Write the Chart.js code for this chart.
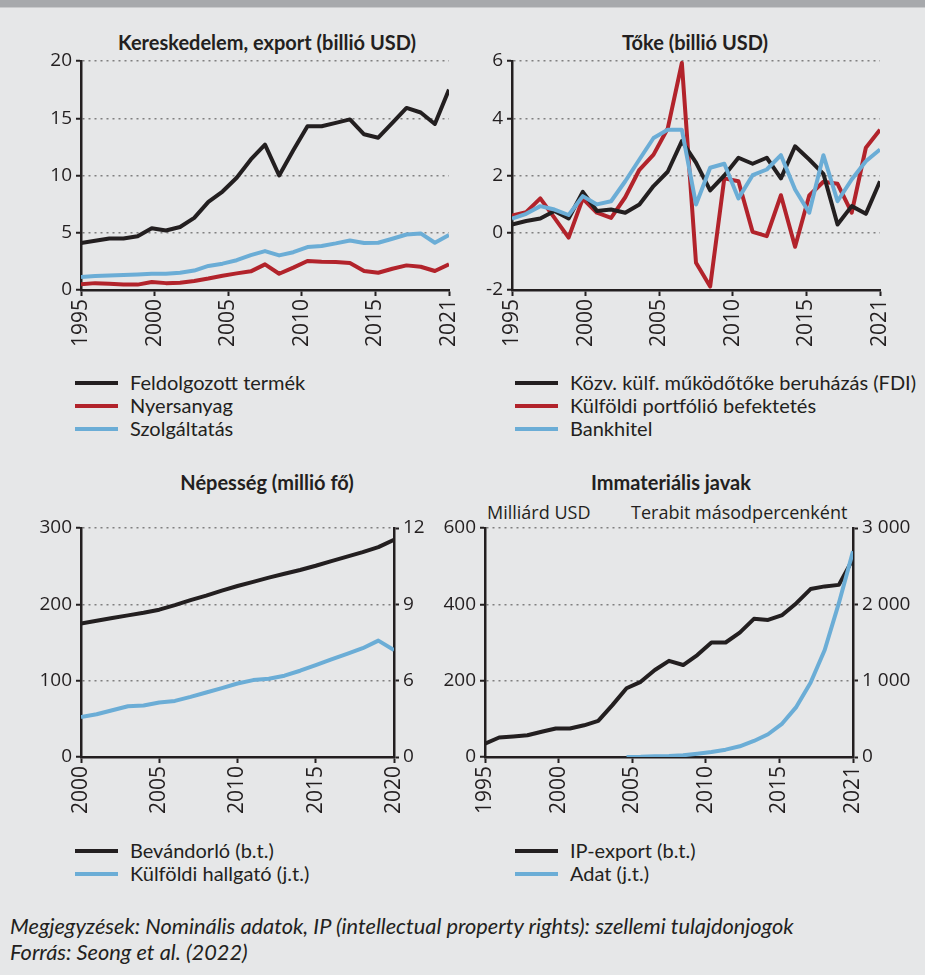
<!DOCTYPE html>
<html lang="hu">
<head>
<meta charset="utf-8">
<title>Globalizáció</title>
<script src="https://cdn.jsdelivr.net/npm/chart.js@4.4.1/dist/chart.umd.min.js"></script>
<style>
  body { margin: 0; background: #e6e7e8; }
  #page { position: relative; width: 925px; height: 975px; background: #e6e7e8; overflow: hidden;
          font-family: Lato, 'Noto Sans', sans-serif; color: #231f20; }
  #topbar { position: absolute; left: 0; top: 0; width: 925px; height: 7px; background: #a7a9ac;
            border-bottom: 1px solid #c9cacc; }
  canvas { position: absolute; }
  .title { position: absolute; font-weight: bold; font-size: 20px; line-height: 24px;
           white-space: nowrap; transform: translateX(-50%); }
  .unit { position: absolute; font-family: 'Open Sans', sans-serif; font-size: 18px; line-height: 24px; white-space: nowrap; }
  .legend { position: absolute; font-size: 20px; line-height: 23px; }
  .legend div { position: relative; padding-left: 55px; white-space: nowrap; }
  .legend i { position: absolute; left: 0; top: 10px; width: 43px; height: 4px; }
  .note { position: absolute; left: 10px; font-style: italic; font-size: 21.8px; line-height: 26px; white-space: nowrap; }
</style>
</head>
<body>
<div id="page">
  <div id="topbar"></div>

  <div class="title" style="left:267px;top:30px">Kereskedelem, export (billió USD)</div>
  <div class="title" style="left:695px;top:30px">Tőke (billió USD)</div>
  <div class="title" style="left:267px;top:470px">Népesség (millió fő)</div>
  <div class="title" style="left:671px;top:470px">Immateriális javak</div>
  <div class="unit" style="left:487px;top:500px">Milliárd USD</div>
  <div class="unit" style="left:631px;top:500px">Terabit másodpercenként</div>

  <canvas id="c-trade" width="450" height="300" style="left:20px;top:50px"></canvas>
  <canvas id="c-capital" width="430" height="300" style="left:470px;top:50px"></canvas>
  <canvas id="c-people" width="440" height="305" style="left:20px;top:515px"></canvas>
  <canvas id="c-intang" width="495" height="305" style="left:430px;top:515px"></canvas>

  <div class="legend" id="lg-trade" style="left:75px;top:371px"></div>
  <div class="legend" id="lg-capital" style="left:515px;top:371px"></div>
  <div class="legend" id="lg-people" style="left:75px;top:839px"></div>
  <div class="legend" id="lg-intang" style="left:515px;top:839px"></div>

  <div class="note" style="top:913px">Megjegyzések: Nominális adatok, IP (intellectual property rights): szellemi tulajdonjogok</div>
  <div class="note" style="top:939px">Forrás: Seong et al. (2022)</div>
</div>

<script>
/* Globalizáció – négy panel */

Chart.defaults.font.family = "'Open Sans', sans-serif";
Chart.defaults.font.size = 19;
Chart.defaults.color = '#231f20';

const BLACK = '#231f20', RED = '#b2232b', BLUE = '#6badd6', GRID = '#808080';
const X_FONT = { family: "'Open Sans', sans-serif", size: 21 };

// ── Data ─────────────────────────────────────────────────────────────────────

const YEARS = [1995, 1996, 1997, 1998, 1999, 2000, 2001, 2002, 2003, 2004, 2005, 2006, 2007, 2008,
               2009, 2010, 2011, 2012, 2013, 2014, 2015, 2016, 2017, 2018, 2019, 2020, 2021];
const YEAR_TICKS = ['1995', '2000', '2005', '2010', '2015', '2021'];

// Kereskedelem, export (billió USD)
const TRADE_MANUF = [4.1, 4.3, 4.5, 4.5, 4.7, 5.4, 5.2, 5.5, 6.3, 7.7, 8.6, 9.8, 11.4, 12.7,
                     10.0, 12.2, 14.3, 14.3, 14.6, 14.9, 13.6, 13.3, 14.6, 15.9, 15.5, 14.5, 17.5];
const TRADE_RAW = [0.5, 0.6, 0.55, 0.47, 0.47, 0.7, 0.6, 0.64, 0.78, 1.0, 1.25, 1.45, 1.63, 2.24,
                   1.42, 1.95, 2.53, 2.47, 2.44, 2.35, 1.66, 1.51, 1.86, 2.15, 2.03, 1.66, 2.24];
const TRADE_SERV = [1.13, 1.22, 1.27, 1.3, 1.35, 1.42, 1.42, 1.5, 1.7, 2.1, 2.3, 2.6, 3.05, 3.4,
                    3.02, 3.3, 3.75, 3.84, 4.07, 4.33, 4.1, 4.13, 4.48, 4.85, 4.94, 4.13, 4.8];

// Tőke (billió USD)
const CAP_FDI = [0.29, 0.41, 0.5, 0.76, 0.5, 1.43, 0.76, 0.81, 0.7, 0.99, 1.63, 2.13, 3.2, 2.45,
                 1.48, 2.0, 2.62, 2.41, 2.62, 1.9, 3.02, 2.56, 2.06, 0.29, 0.93, 0.66, 1.8];
const CAP_PORTF = [0.6, 0.72, 1.2, 0.52, -0.17, 1.19, 0.7, 0.52, 1.24, 2.2, 2.73, 3.64, 5.93, -1.05,
                   -1.88, 1.9, 1.8, 0.03, -0.12, 1.31, -0.49, 1.3, 1.78, 1.71, 0.7, 2.97, 3.6];
const CAP_BANK = [0.49, 0.66, 0.93, 0.81, 0.62, 1.28, 0.99, 1.1, 1.8, 2.56, 3.31, 3.6, 3.6, 0.99,
                  2.27, 2.41, 1.2, 2.01, 2.21, 2.71, 1.51, 0.7, 2.71, 1.1, 1.86, 2.5, 2.91];

// Népesség (millió fő)
const POP_YEARS = [2000, 2001, 2002, 2003, 2004, 2005, 2006, 2007, 2008, 2009, 2010,
                   2011, 2012, 2013, 2014, 2015, 2016, 2017, 2018, 2019, 2020];
const POP_TICKS = ['2000', '2005', '2010', '2015', '2020'];
const IMMIGRANTS = [175, 178.5, 182, 185.5, 189, 193, 199, 205.5, 211.5, 218, 224,
                    229.5, 235, 240, 245, 250.5, 256.5, 262.5, 268.5, 275, 284.5];
const STUDENTS = [2.1, 2.24, 2.45, 2.66, 2.7, 2.86, 2.94, 3.15, 3.38, 3.61, 3.85,
                  4.03, 4.1, 4.26, 4.52, 4.82, 5.12, 5.4, 5.7, 6.1, 5.6];
const STUDENT_TICK_POS = [0, 4, 8, 12];
const STUDENT_TICK_TEXT = ['0', '6', '9', '12'];

// Immateriális javak
const IP_EXPORT = [35, 51, 54, 57, 66, 74.5, 74.5, 83, 94.6, 136, 180, 197, 228, 252,
                   241, 267, 300, 300, 326, 362, 359, 372, 403, 440, 447, 451, 519];
const DATA_TBPS = [null, null, null, null, null, null, null, null, null, null, 0, 2, 9, 13,
                   22, 44, 66, 96, 140, 210, 298, 438, 657, 972, 1402, 2015, 2694];

// ── Helpers ──────────────────────────────────────────────────────────────────

function series(label, xs, values, color, yAxisID) {
  return {
    label,
    data: xs.map((x, i) => ({ x, y: values[i] })),
    borderColor: color,
    backgroundColor: color,
    borderWidth: 4,
    pointRadius: 0,
    tension: 0,
    borderJoinStyle: 'round',
    spanGaps: false,
    xAxisID: 'xd',
    yAxisID: yAxisID || 'y',
  };
}

function spaced(v) {
  return String(v).replace(/\B(?=(\d{3})+(?!\d))/g, ' ');
}

// fixed box sizes, so the plot areas land where the reference has them
function fixWidth(width) {
  return s => { s.width = width; s.paddingTop = 0; s.paddingBottom = 0; };
}
function fixHeight(height) {
  return s => { s.height = height; s.paddingLeft = 0; s.paddingRight = 0; };
}

function yScale(min, max, step, width, extra) {
  return Object.assign({
    position: 'left', min, max,
    afterFit: fixWidth(width),
    ticks: { stepSize: step, padding: 4, color: BLACK },
    grid: {
      color: c => c.index === 0 ? 'rgba(0,0,0,0)' : GRID,
      lineWidth: 1.5, tickLength: 5, tickColor: BLACK, tickWidth: 2, tickBorderDash: [],
    },
    border: { color: BLACK, width: 2.5, dash: [2, 4] },
  }, extra || {});
}

function y2Scale(min, max, width, extra) {
  return Object.assign({
    position: 'right', min, max,
    afterFit: fixWidth(width),
    ticks: { padding: 4, color: BLACK },
    grid: { drawOnChartArea: false, tickLength: 5, tickColor: BLACK, tickWidth: 2 },
    border: { color: BLACK, width: 2.5 },
  }, extra || {});
}

function xScales(tickLabels, min, max, height) {
  return {
    x: {
      type: 'category', labels: tickLabels, offset: false, position: 'bottom',
      afterFit: fixHeight(height),
      ticks: { minRotation: 90, maxRotation: 90, autoSkip: false, padding: 3, color: BLACK, font: X_FONT },
      grid: { drawOnChartArea: false, offset: false, tickLength: 6, tickColor: BLACK, tickWidth: 2 },
      border: { color: BLACK, width: 2.5 },
    },
    xd: { type: 'linear', min, max, display: false },
  };
}

function makeChart(id, datasets, scales, padding) {
  return new Chart(document.getElementById(id), {
    type: 'line',
    data: { datasets },
    options: {
      responsive: false,
      animation: false,
      layout: { padding },
      plugins: { legend: { display: false }, tooltip: { enabled: false } },
      scales,
    },
  });
}

function legend(id, items) {
  document.getElementById(id).innerHTML = items
    .map(([text, color]) => `<div><i style="background:${color}"></i>${text}</div>`)
    .join('');
}

// ── Charts ───────────────────────────────────────────────────────────────────

makeChart('c-trade', [
  series('Szolgáltatás', YEARS, TRADE_SERV, BLUE),
  series('Nyersanyag', YEARS, TRADE_RAW, RED),
  series('Feldolgozott termék', YEARS, TRADE_MANUF, BLACK),
], Object.assign(xScales(YEAR_TICKS, 1995, 2021, 60), { y: yScale(0, 20, 5, 61) }),
{ top: 11, right: 21, left: 0, bottom: 0 });

makeChart('c-capital', [
  series('Bankhitel', YEARS, CAP_BANK, BLUE),
  series('Közv. külf. működőtőke beruházás (FDI)', YEARS, CAP_FDI, BLACK),
  series('Külföldi portfólió befektetés', YEARS, CAP_PORTF, RED),
], Object.assign(xScales(YEAR_TICKS, 1995, 2021, 60), { y: yScale(-2, 6, 2, 42) }),
{ top: 11, right: 20, left: 0, bottom: 0 });

makeChart('c-people', [
  series('Külföldi hallgató (j.t.)', POP_YEARS, STUDENTS, BLUE, 'y2'),
  series('Bevándorló (b.t.)', POP_YEARS, IMMIGRANTS, BLACK),
], Object.assign(xScales(POP_TICKS, 2000, 2020, 63), {
  y: yScale(0, 300, 100, 61),
  y2: y2Scale(0, 12, 66, {
    afterBuildTicks: s => { s.ticks = STUDENT_TICK_POS.map(value => ({ value })); },
    ticks: { padding: 4, color: BLACK, callback: v => STUDENT_TICK_TEXT[STUDENT_TICK_POS.indexOf(v)] },
  }),
}), { top: 13, right: 0, left: 0, bottom: 0 });

makeChart('c-intang', [
  series('Adat (j.t.)', YEARS, DATA_TBPS, BLUE, 'y2'),
  series('IP-export (b.t.)', YEARS, IP_EXPORT, BLACK),
], Object.assign(xScales(YEAR_TICKS, 1995, 2021, 63), {
  y: yScale(0, 600, 200, 55),
  y2: y2Scale(0, 3000, 72, {
    ticks: { stepSize: 1000, padding: 4, color: BLACK, callback: v => spaced(v) },
  }),
}), { top: 13, right: 0, left: 0, bottom: 0 });

// ── Legends ──────────────────────────────────────────────────────────────────

legend('lg-trade', [['Feldolgozott termék', BLACK], ['Nyersanyag', RED], ['Szolgáltatás', BLUE]]);
legend('lg-capital', [['Közv. külf. működőtőke beruházás (FDI)', BLACK],
                      ['Külföldi portfólió befektetés', RED], ['Bankhitel', BLUE]]);
legend('lg-people', [['Bevándorló (b.t.)', BLACK], ['Külföldi hallgató (j.t.)', BLUE]]);
legend('lg-intang', [['IP-export (b.t.)', BLACK], ['Adat (j.t.)', BLUE]]);
</script>
</body>
</html>
